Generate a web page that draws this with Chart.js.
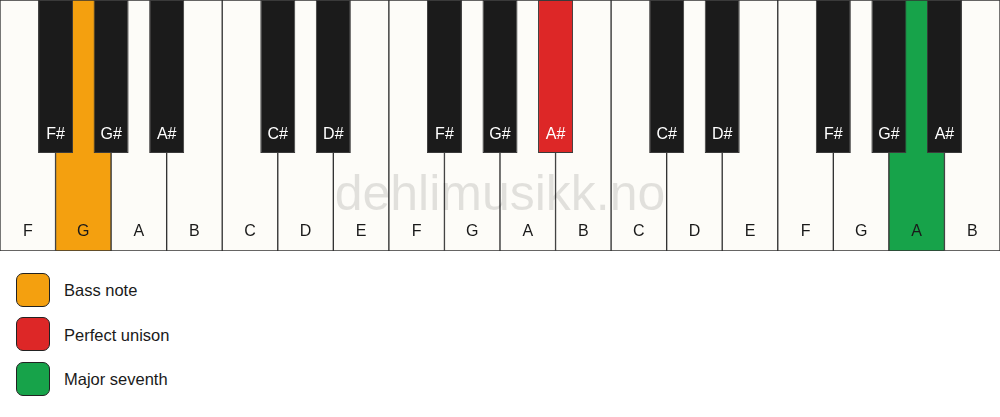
<!DOCTYPE html>
<html>
<head>
<meta charset="utf-8">
<script src="https://cdn.jsdelivr.net/npm/chart.js"></script>
<style>
    body { margin: 0; background: #fff; font-family: "Liberation Sans", Arial, sans-serif; }
    #wrap { position: relative; width: 1000px; height: 417px; }
    #legend { position: absolute; left: 16px; top: 272px; }
    .legend_item { display: flex; align-items: center; height: 35px; margin-bottom: 9.5px; }
    .legend_box { width: 32px; height: 32px; border: 1.5px solid #222; border-radius: 7px; box-sizing: content-box; }
    .legend_text { margin-left: 14px; font-size: 16.5px; color: #1a1a1a; padding-top: 2px; }
</style>
</head>
<body>
<div id="wrap">
    <canvas id="keys" width="1000" height="251"></canvas>
    <div id="legend"></div>
</div>
<script>
// Tasten (weiß) und schwarze Tasten auf den Grenzen zwischen weißen Tasten
const whiteNames = ['F', 'G', 'A', 'B', 'C', 'D', 'E', 'F', 'G', 'A', 'B', 'C', 'D', 'E', 'F', 'G', 'A', 'B'];
const blackNames = ['F#', 'G#', 'A#', 'C#', 'D#', 'F#', 'G#', 'A#', 'C#', 'D#', 'F#', 'G#', 'A#'];
const blackPos = [1, 2, 3, 5, 6, 8, 9, 10, 12, 13, 15, 16, 17];
const whiteLength = 1;
const blackLength = 0.61;

// markierte Tasten
const legendLabels = ['Bass note', 'Perfect unison', 'Major seventh'];
const legendColors = ['#f4a00f', '#dd2727', '#17a34a'];
const markedWhite = [1, 16];
const markedWhiteRole = [0, 2];
const markedBlack = [7];
const markedBlackRole = [1];

const whiteColor = '#fdfcf8';
const blackColor = '#1b1b1b';

function keyColors(count, marked, roles, base) {
    const colors = [];
    for (let i = 0; i < count; i++) colors.push(base);
    marked.forEach((k, i) => colors[k] = legendColors[roles[i]]);
    return colors;
}

const whiteFill = keyColors(whiteNames.length, markedWhite, markedWhiteRole, whiteColor);
const blackFill = keyColors(blackNames.length, markedBlack, markedBlackRole, blackColor);

const keyLabels = {
    id: 'keyLabels',
    afterDatasetsDraw(chart) {
        const ctx = chart.ctx;
        const y = chart.scales.y;
        const area = chart.chartArea;
        ctx.save();
        ctx.textAlign = 'center';
        ctx.textBaseline = 'middle';

        // Wasserzeichen
        ctx.font = '50px "Liberation Sans", Arial, sans-serif';
        ctx.fillStyle = 'rgba(0, 0, 0, 0.11)';
        ctx.fillText('dehlimusikk.no', (area.left + area.right) / 2, y.getPixelForValue(0.78));

        ctx.font = '16px "Liberation Sans", Arial, sans-serif';
        chart.getDatasetMeta(0).data.forEach((bar, i) => {
            ctx.fillStyle = '#1a1a1a';
            ctx.fillText(whiteNames[i], bar.x, y.getPixelForValue(0.922));
        });
        chart.getDatasetMeta(1).data.forEach((bar, i) => {
            ctx.fillStyle = '#ffffff';
            ctx.fillText(blackNames[i], bar.x, y.getPixelForValue(0.537));
        });
        ctx.restore();
    }
};

new Chart(document.getElementById('keys'), {
    type: 'bar',
    data: {
        labels: whiteNames,
        datasets: [{
            label: 'white',
            data: whiteNames.map(() => [0, whiteLength]),
            backgroundColor: whiteFill,
            borderColor: '#333333',
            borderWidth: 1,
            borderSkipped: false,
            barPercentage: 1,
            categoryPercentage: 1,
            grouped: false,
            order: 2,
            xAxisID: 'x'
        }, {
            label: 'black',
            data: blackPos.map(p => ({ x: p, y: [0, blackLength] })),
            backgroundColor: blackFill,
            borderColor: '#3a3a3a',
            borderWidth: 1,
            borderSkipped: false,
            barPercentage: 0.63,
            categoryPercentage: 1,
            grouped: false,
            order: 1,
            xAxisID: 'xb'
        }]
    },
    options: {
        responsive: false,
        animation: false,
        events: [],
        layout: { padding: 0 },
        scales: {
            x: { type: 'category', offset: true, display: false },
            xb: { type: 'linear', min: 0, max: whiteNames.length, offset: false, display: false, ticks: { stepSize: 1 } },
            y: { type: 'linear', min: 0, max: whiteLength, reverse: true, display: false }
        },
        plugins: {
            legend: { display: false },
            tooltip: { enabled: false }
        }
    },
    plugins: [keyLabels]
});

document.getElementById('legend').innerHTML = legendLabels.map((label, i) => `
    <div class="legend_item">
        <div class="legend_box" style="background:${legendColors[i]}"></div>
        <div class="legend_text">${label}</div>
    </div>
`).join('');
</script>
</body>
</html>
